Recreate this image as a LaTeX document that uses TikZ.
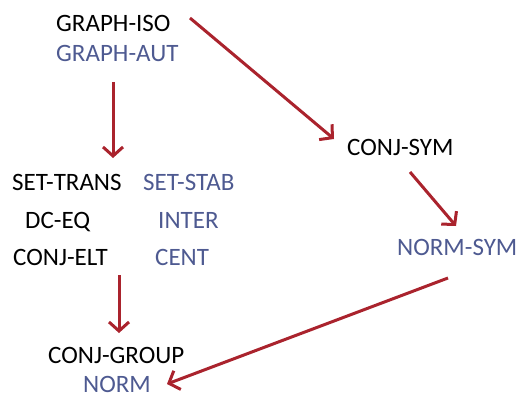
\documentclass[tikz,border=0pt]{standalone}
\usepackage{fontspec}
\setmainfont{Carlito}
\usetikzlibrary{arrows.meta}
\definecolor{arr}{RGB}{170,35,45}
\definecolor{bluetxt}{RGB}{78,90,145}
\begin{document}
\begin{tikzpicture}[x=1pt,y=-1pt,
  lbl/.style={anchor=base west,inner sep=0pt,font=\fontsize{25}{29}\selectfont},
  blk/.style={lbl,text=black},
  blu/.style={lbl,text=bluetxt},
  arrow/.style={draw=arr,line width=3pt,-{Straight Barb[length=9pt,width=20pt,line width=3pt]}}]
\useasboundingbox (0,0) rectangle (516,401);
\node[blk] (iso) at (56,32) {GRAPH-ISO};
\node[blu] (aut) at (56,62) {GRAPH-AUT};
\node[blk] (settrans) at (12,190) {SET-TRANS};
\node[blu] (setstab) at (143,190) {SET-STAB};
\node[blk] (dceq) at (25,228) {DC-EQ};
\node[blu] (inter) at (158,228) {INTER};
\node[blk] (conjelt) at (13,265) {CONJ-ELT};
\node[blu] (cent) at (155,265) {CENT};
\node[blk] (conjgroup) at (48,363) {CONJ-GROUP};
\node[blu] (norm) at (83,392) {NORM};
\node[blk] (conjsym) at (347,155) {CONJ-SYM};
\node[blu] (normsym) at (397,255) {NORM-SYM};
\coordinate (a1s) at (113,82);
\coordinate (a1e) at (113,158);
\coordinate (a2s) at (119,275);
\coordinate (a2e) at (119,333);
\coordinate (a3s) at (190,18);
\coordinate (a3e) at (334,139);
\coordinate (a4s) at (410,172);
\coordinate (a4e) at (456,226);
\coordinate (a5s) at (448,278);
\coordinate (a5e) at (167,384);
\draw[arrow] (a1s) -- (a1e);
\draw[arrow] (a2s) -- (a2e);
\draw[arrow] (a3s) -- (a3e);
\draw[arrow] (a4s) -- (a4e);
\draw[arrow] (a5s) -- (a5e);
\end{tikzpicture}
\end{document}
